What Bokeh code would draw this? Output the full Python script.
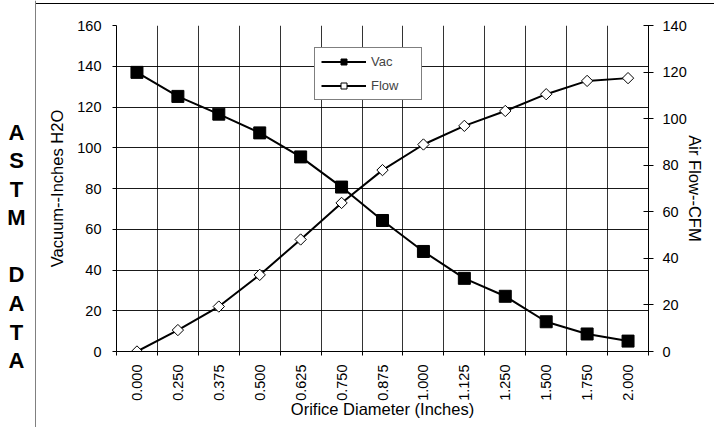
import numpy as np
from bokeh.plotting import figure
from bokeh.layouts import row, column
from bokeh.models import (Range1d, LinearAxis, FixedTicker, Legend, LegendItem, Span, Div)
from bokeh.core.properties import value
from bokeh.embed import file_html
from bokeh.resources import INLINE

# ---- data ----
diameters = ["0.000", "0.250", "0.375", "0.500", "0.625", "0.750", "0.875",
             "1.000", "1.125", "1.250", "1.500", "1.750", "2.000"]
vac = [137.0, 125.2, 116.5, 107.3, 95.5, 80.7, 64.3, 49.1, 35.9, 27.1, 14.6, 8.6, 5.1]
flow = [0.0, 9.2, 19.3, 32.9, 48.1, 63.8, 77.9, 88.9, 96.9, 103.3, 110.5, 116.2, 117.4]
vac_ticks = [0, 20, 40, 60, 80, 100, 120, 140, 160]
flow_ticks = [0, 20, 40, 60, 80, 100, 120, 140]
side_letters = ["A", "S", "T", "M", "", "D", "A", "T", "A"]
x_title = "Orifice Diameter (Inches)"
y_title = "Vacuum--Inches H2O"
y2_title = "Air Flow--CFM"

FONT = "Liberation Sans"
n = len(diameters)
xs = list(range(n))

W, H = 714, 427
LEFT_W = 36     # strip with the side letters
TOP_H = 4       # strip with the top frame line

# ---------------- main chart ----------------
p = figure(width=W - LEFT_W, height=H - TOP_H, title=None,
           x_range=Range1d(-0.5, n - 0.5),
           y_range=Range1d(vac_ticks[0], vac_ticks[-1]),
           output_backend="svg", toolbar_location=None,
           min_border_left=80, min_border_right=66,
           min_border_top=21, min_border_bottom=76,
           outline_line_color=None,
           background_fill_color="white", border_fill_color="white")
p.extra_y_ranges = {"flow": Range1d(flow_ticks[0], flow_ticks[-1])}

# x axis
xa = p.xaxis[0]
xa.ticker = FixedTicker(ticks=xs, minor_ticks=[x - 0.5 for x in xs + [n]])
xa.major_label_overrides = {i: d for i, d in zip(xs, diameters)}
xa.major_label_orientation = np.pi / 2
xa.major_tick_out = 0
xa.major_tick_in = 0
xa.minor_tick_out = 4
xa.minor_tick_in = 0
xa.minor_tick_line_color = "black"
xa.major_label_standoff = 9
xa.axis_label = x_title
xa.axis_label_standoff = -4

# left axis
ya = p.yaxis[0]
ya.ticker = FixedTicker(ticks=vac_ticks)
ya.major_tick_out = 4
ya.major_tick_in = 0
ya.minor_tick_line_color = None
ya.major_label_standoff = 11
ya.axis_label = y_title
ya.axis_label_standoff = 8

# right axis
ra = LinearAxis(y_range_name="flow", ticker=FixedTicker(ticks=flow_ticks),
                axis_label=y2_title)
ra.major_tick_out = 5
ra.major_tick_in = 5
ra.minor_tick_line_color = None
ra.major_label_standoff = 9
ra.axis_label_standoff = -4
p.add_layout(ra, "right")

for ax in (xa, ya, ra):
    ax.axis_line_color = "black"
    ax.major_tick_line_color = "black"
    ax.major_label_text_font = FONT
    ax.major_label_text_font_size = "14.5px"
    ax.major_label_text_color = "black"
    ax.axis_label_text_font = FONT
    ax.axis_label_text_font_size = "16.5px"
    ax.axis_label_text_font_style = "normal"
    ax.axis_label_text_color = "black"

# grids
p.xgrid.grid_line_color = None
p.xgrid.minor_grid_line_color = "black"
p.xgrid.minor_grid_line_alpha = 0.8
p.ygrid.grid_line_color = "black"
p.ygrid.grid_line_alpha = 0.9

# series
r_vl = p.line(xs, vac, line_color="black", line_width=2)
r_vs = p.scatter(xs, vac, marker="square", size=12,
                 fill_color="black", line_color="black")
r_fl = p.line(xs, flow, y_range_name="flow", line_color="black", line_width=2)
r_fs = p.scatter(xs, flow, y_range_name="flow", marker="square", angle=np.pi / 4,
                 size=8, fill_color="white", line_color="black", line_width=1)

legend = Legend(items=[LegendItem(label="Vac", renderers=[r_vl, r_vs]),
                       LegendItem(label="Flow", renderers=[r_fl, r_fs])],
                location=(198, 251.5),
                border_line_color="black", border_line_width=1,
                background_fill_color="white", background_fill_alpha=1,
                label_text_font=FONT, label_text_font_size="13px",
                glyph_width=45, glyph_height=15, label_height=15, label_width=44,
                spacing=9, padding=6, label_standoff=5, margin=0)
p.add_layout(legend)

# ---------------- top strip (frame line) ----------------
top = Div(text="", width=W - LEFT_W, height=TOP_H, margin=(0, 0, 0, 0),
          styles={"border-bottom": "1px solid black", "box-sizing": "border-box"})

# ---------------- left strip (side letters + frame line) ----------------
left = figure(width=LEFT_W, height=H, title=None,
              x_range=Range1d(0, LEFT_W), y_range=Range1d(H, 0),
              output_backend="svg", toolbar_location=None,
              x_axis_location=None, y_axis_location=None, min_border=0,
              outline_line_color=None, background_fill_color="white",
              border_fill_color="white")
left.grid.visible = False
left.add_layout(Span(location=LEFT_W - 0.5, dimension="height",
                     line_color="black", line_width=1))
letter_y = [131.7 + 28.55 * k for k in range(len(side_letters))]
keep = [k for k, s in enumerate(side_letters) if s]
left.text(x=[16] * len(keep), y=[letter_y[k] for k in keep],
          text=[side_letters[k] for k in keep],
          text_font=value(FONT), text_font_size="22px", text_font_style="bold",
          text_align="center", text_baseline="middle", text_color="black")

layout = row(left, column(top, p))
open("out.html", "w").write(file_html(layout, INLINE))
